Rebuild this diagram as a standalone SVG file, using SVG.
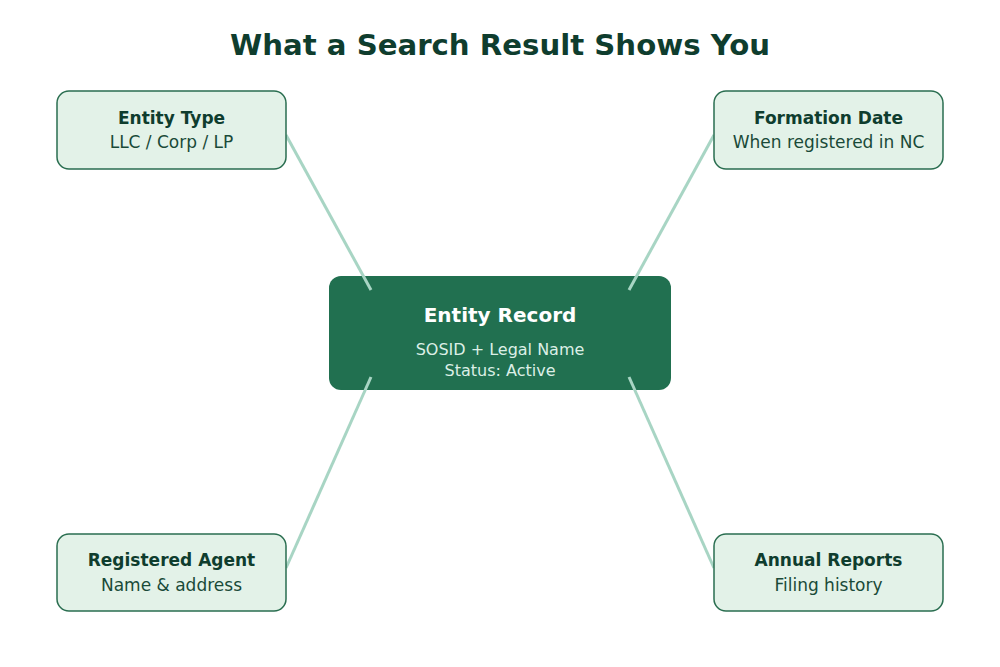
<svg xmlns="http://www.w3.org/2000/svg" width="1000" height="667" viewBox="0 0 1000 667">
<style>
text{font-family:"DejaVu Sans","Liberation Sans",sans-serif;text-anchor:middle}
.title{font-size:29.2px;font-weight:bold;fill:#0f3d2e}
.box{fill:#e3f2e8;stroke:#2a6e50;stroke-width:1.5}
.bt{font-size:17px;font-weight:bold;fill:#0f3d2e}
.bs{font-size:17px;fill:#1a4a38}
.center{fill:#217050}
.ct{font-size:20px;font-weight:bold;fill:#ffffff}
.cs{font-size:16px;fill:#dcefe6}
.conn line{stroke:#a8d5c4;stroke-width:3}
</style>
<rect width="1000" height="667" fill="#ffffff"/>
<text class="title" x="500" y="55">What a Search Result Shows You</text>
<g id="center">
<rect class="center" x="329" y="276" width="342" height="114" rx="12"/>
<text class="ct" x="500" y="322">Entity Record</text>
<text class="cs" x="500" y="355">SOSID + Legal Name</text>
<text class="cs" x="500" y="376">Status: Active</text>
</g>
<g class="conn" id="connectors">
<line x1="286" y1="135" x2="371" y2="290"/>
<line x1="714" y1="135" x2="629" y2="290"/>
<line x1="371" y1="377" x2="286" y2="568"/>
<line x1="629" y1="377" x2="714" y2="568"/>
</g>
<g id="entity-type">
<rect class="box" x="57" y="91" width="229" height="78" rx="12"/>
<text class="bt" x="171.5" y="124">Entity Type</text>
<text class="bs" x="171.5" y="148">LLC / Corp / LP</text>
</g>
<g id="formation-date">
<rect class="box" x="714" y="91" width="229" height="78" rx="12"/>
<text class="bt" x="828.5" y="124">Formation Date</text>
<text class="bs" x="828.5" y="148">When registered in NC</text>
</g>
<g id="registered-agent">
<rect class="box" x="57" y="534" width="229" height="77" rx="12"/>
<text class="bt" x="171.5" y="566">Registered Agent</text>
<text class="bs" x="171.5" y="591">Name &amp; address</text>
</g>
<g id="annual-reports">
<rect class="box" x="714" y="534" width="229" height="77" rx="12"/>
<text class="bt" x="828.5" y="566">Annual Reports</text>
<text class="bs" x="828.5" y="591">Filing history</text>
</g>
</svg>
